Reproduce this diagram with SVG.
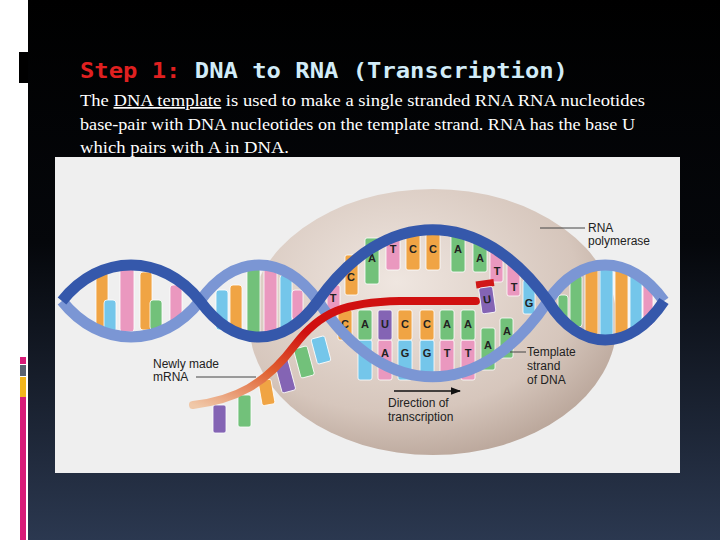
<svg xmlns="http://www.w3.org/2000/svg" width="720" height="540" viewBox="0 0 720 540">
<defs>
<linearGradient id="bg" x1="0" y1="0" x2="0" y2="1"><stop offset="0" stop-color="#000"/><stop offset="0.45" stop-color="#05070b"/><stop offset="1" stop-color="#2b3850"/></linearGradient>
<radialGradient id="sph" cx="0.4" cy="0.35" r="0.7"><stop offset="0" stop-color="#efe6e0"/><stop offset="0.7" stop-color="#d6c6bc"/><stop offset="1" stop-color="#b8a498"/></radialGradient>
<linearGradient id="mr" x1="0" y1="1" x2="1" y2="0"><stop offset="0" stop-color="#f0c8a8"/><stop offset="0.3" stop-color="#e06030"/><stop offset="0.55" stop-color="#d01010"/></linearGradient>
<marker id="ah" markerWidth="8" markerHeight="8" refX="7" refY="4" orient="auto"><path d="M0,1 L8,4 L0,7z" fill="#111"/></marker>
<style>
.b{stroke:#fff;stroke-width:0.8}
.o{fill:#f0a444}.p{fill:#ea98bf}.g{fill:#72c17a}.c{fill:#74c6ea}.v{fill:#8464b4}
.s1{fill:none;stroke:#3558ab;stroke-width:11}
.s2{fill:none;stroke:#7b96d4;stroke-width:11}
.l{font-family:"Liberation Sans",Arial,sans-serif;font-size:12px;fill:#222}
.k{font-family:"Liberation Sans",Arial,sans-serif;font-size:11px;font-weight:bold;fill:#222;text-anchor:middle}
.bt{font-family:"Liberation Serif",serif;font-size:17px;fill:#fff}
</style>
</defs>
<rect width="720" height="540" fill="url(#bg)"/>
<rect x="0" y="0" width="28" height="540" fill="#fff"/>
<rect x="19" y="52" width="9" height="31" fill="#000"/>
<rect x="20" y="357" width="6" height="7" fill="#d81b78"/>
<rect x="20" y="365" width="6" height="11" fill="#5a6270"/>
<rect x="20" y="377" width="6" height="20" fill="#f2b51c"/>
<rect x="20" y="397" width="6" height="143" fill="#d81b78"/>

<g id="title">
<text x="80" y="78" font-family="'DejaVu Sans Mono','Liberation Mono',monospace" font-size="21" font-weight="bold" textLength="488" lengthAdjust="spacingAndGlyphs"><tspan fill="#e02020">Step 1:</tspan><tspan fill="#d2ecf8"> DNA to RNA (Transcription)</tspan></text>
</g>
<g id="body">
<text class="bt" x="80" y="106" textLength="565" lengthAdjust="spacingAndGlyphs">The <tspan text-decoration="underline">DNA template</tspan> is used to make a single stranded  RNA RNA nucleotides</text>
<text class="bt" x="80" y="130" textLength="555" lengthAdjust="spacingAndGlyphs">base-pair with DNA nucleotides on the template strand. RNA has the base U</text>
<text class="bt" x="80" y="153" textLength="209" lengthAdjust="spacingAndGlyphs">which pairs with  A  in DNA.</text>
</g>

<g id="figure">
<rect x="55" y="157" width="625" height="316" fill="#efefef"/>
<g id="polymerase"><ellipse cx="433" cy="322" rx="184" ry="133" fill="url(#sph)"/></g>
<g id="bars-left">
<rect class="b o" x="96" y="272" width="12" height="58" rx="3"/>
<rect class="b c" x="104" y="300" width="12" height="32" rx="3"/>
<rect class="b p" x="120" y="268" width="14" height="64" rx="3"/>
<rect class="b o" x="140" y="272" width="12" height="58" rx="3"/>
<rect class="b g" x="150" y="300" width="12" height="30" rx="3"/>
<rect class="b p" x="170" y="285" width="12" height="40" rx="3"/>
<rect class="b c" x="216" y="290" width="12" height="40" rx="3"/>
<rect class="b o" x="230" y="285" width="12" height="50" rx="3"/>
<rect class="b g" x="247" y="266" width="13" height="72" rx="3"/>
<rect class="b p" x="264" y="268" width="13" height="70" rx="3"/>
<rect class="b c" x="280" y="275" width="12" height="58" rx="3"/>
<rect class="b p" x="292" y="290" width="11" height="30" rx="3"/>
</g>
<g id="bars-right">
<rect class="b g" x="570" y="275" width="12" height="52" rx="3"/>
<rect class="b o" x="585" y="268" width="13" height="68" rx="3"/>
<rect class="b c" x="600" y="266" width="13" height="72" rx="3"/>
<rect class="b o" x="615" y="268" width="13" height="70" rx="3"/>
<rect class="b c" x="630" y="272" width="12" height="60" rx="3"/>
<rect class="b p" x="643" y="282" width="10" height="44" rx="3"/>
<rect class="b g" x="558" y="295" width="10" height="26" rx="3"/>
</g>
<g id="bases-top">
<rect class="b p" x="327" y="285" width="13" height="26" rx="2"/><text class="k" x="333" y="302">T</text>
<rect class="b o" x="345" y="255" width="13" height="40" rx="2"/><text class="k" x="351" y="281">C</text>
<rect class="b g" x="365" y="238" width="14" height="46" rx="2"/><text class="k" x="372" y="262">A</text>
<rect class="b p" x="386" y="234" width="14" height="36" rx="2"/><text class="k" x="393" y="253">T</text>
<rect class="b o" x="406" y="234" width="14" height="36" rx="2"/><text class="k" x="413" y="253">C</text>
<rect class="b o" x="426" y="234" width="14" height="36" rx="2"/><text class="k" x="433" y="253">C</text>
<rect class="b g" x="451" y="234" width="14" height="38" rx="2"/><text class="k" x="458" y="253">A</text>
<rect class="b g" x="473" y="238" width="14" height="34" rx="2"/><text class="k" x="480" y="262">A</text>
<rect class="b p" x="490" y="250" width="13" height="32" rx="2"/><text class="k" x="497" y="275">T</text>
<rect class="b p" x="507" y="262" width="13" height="34" rx="2"/><text class="k" x="514" y="291">T</text>
<rect class="b c" x="523" y="280" width="12" height="34" rx="2"/><text class="k" x="529" y="307">G</text>
</g>
<g id="bases-bottom">
<rect class="b c" x="358" y="340" width="14" height="40" rx="2"/><text class="k" x="365" y="357">T</text>
<rect class="b p" x="378" y="340" width="14" height="40" rx="2"/><text class="k" x="385" y="357">A</text>
<rect class="b c" x="398" y="340" width="14" height="40" rx="2"/><text class="k" x="405" y="357">G</text>
<rect class="b c" x="420" y="340" width="14" height="40" rx="2"/><text class="k" x="427" y="357">G</text>
<rect class="b p" x="440" y="340" width="14" height="40" rx="2"/><text class="k" x="447" y="357">T</text>
<rect class="b p" x="461" y="340" width="14" height="40" rx="2"/><text class="k" x="468" y="357">T</text>
<rect class="b g" x="481" y="328" width="14" height="42" rx="2"/><text class="k" x="488" y="349">A</text>
<rect class="b g" x="500" y="318" width="13" height="40" rx="2"/><text class="k" x="507" y="335">A</text>
</g>
<g id="rna-bases">
<rect class="b o" x="338" y="310" width="14" height="30" rx="2"/><text class="k" x="345" y="328">C</text>
<rect class="b g" x="358" y="310" width="14" height="30" rx="2"/><text class="k" x="365" y="328">A</text>
<rect class="b v" x="378" y="310" width="14" height="30" rx="2"/><text class="k" x="385" y="328">U</text>
<rect class="b o" x="398" y="310" width="14" height="30" rx="2"/><text class="k" x="405" y="328">C</text>
<rect class="b o" x="420" y="310" width="14" height="30" rx="2"/><text class="k" x="427" y="328">C</text>
<rect class="b g" x="440" y="310" width="14" height="30" rx="2"/><text class="k" x="447" y="328">A</text>
<rect class="b g" x="461" y="310" width="14" height="30" rx="2"/><text class="k" x="468" y="328">A</text>
</g>
<g id="strands">
<path class="s2" d="M62,301 C100,349 162,349 200,301 C235,253 283,253 318,301 C385,402 480,402 548,301 C580,253 630,253 664,301"/>
<path class="s1" d="M62,301 C100,253 162,253 200,301 C235,349 283,349 318,301 C385,206 480,206 548,301 C580,353 630,353 664,301"/>
</g>
<g id="mrna">
<rect class="b v" x="213" y="405" width="13" height="28" rx="2"/>
<rect class="b g" x="238" y="395" width="13" height="32" rx="2"/>
<rect class="b o" x="260" y="380" width="13" height="25" rx="2" transform="rotate(-10 266 392)"/>
<rect class="b v" x="278" y="360" width="14" height="32" rx="2" transform="rotate(-15 285 376)"/>
<rect class="b g" x="297" y="347" width="14" height="30" rx="2" transform="rotate(-15 304 362)"/>
<rect class="b c" x="314" y="337" width="14" height="26" rx="2" transform="rotate(-15 321 350)"/>
<path d="M193,405 C235,400 265,385 295,345 C320,312 345,302 400,301 L476,301" fill="none" stroke="url(#mr)" stroke-width="8" stroke-linecap="round"/>
<g transform="rotate(-8 488 298)"><rect x="478" y="280" width="18" height="7" fill="#d01818"/><rect class="b v" x="480" y="287" width="14" height="26" rx="2"/><text class="k" x="487" y="303" fill="#fff">U</text></g>
</g>
</g>

<g id="connectors">
<line x1="540" y1="228" x2="585" y2="228" stroke="#444" stroke-width="1"/>
<line x1="196" y1="377" x2="256" y2="377" stroke="#444" stroke-width="1"/>
<line x1="510" y1="352" x2="526" y2="352" stroke="#444" stroke-width="1"/>
<line x1="394" y1="391" x2="460" y2="391" stroke="#111" stroke-width="1.3" marker-end="url(#ah)"/>
</g>
<g id="labels">
<text class="l" x="588" y="232">RNA</text><text class="l" x="588" y="245">polymerase</text>
<text class="l" x="153" y="368">Newly made</text><text class="l" x="153" y="381">mRNA</text>
<text class="l" x="527" y="356">Template</text><text class="l" x="527" y="370">strand</text><text class="l" x="527" y="384">of DNA</text>
<text class="l" x="388" y="407">Direction of</text><text class="l" x="388" y="421">transcription</text>
</g>
</svg>
